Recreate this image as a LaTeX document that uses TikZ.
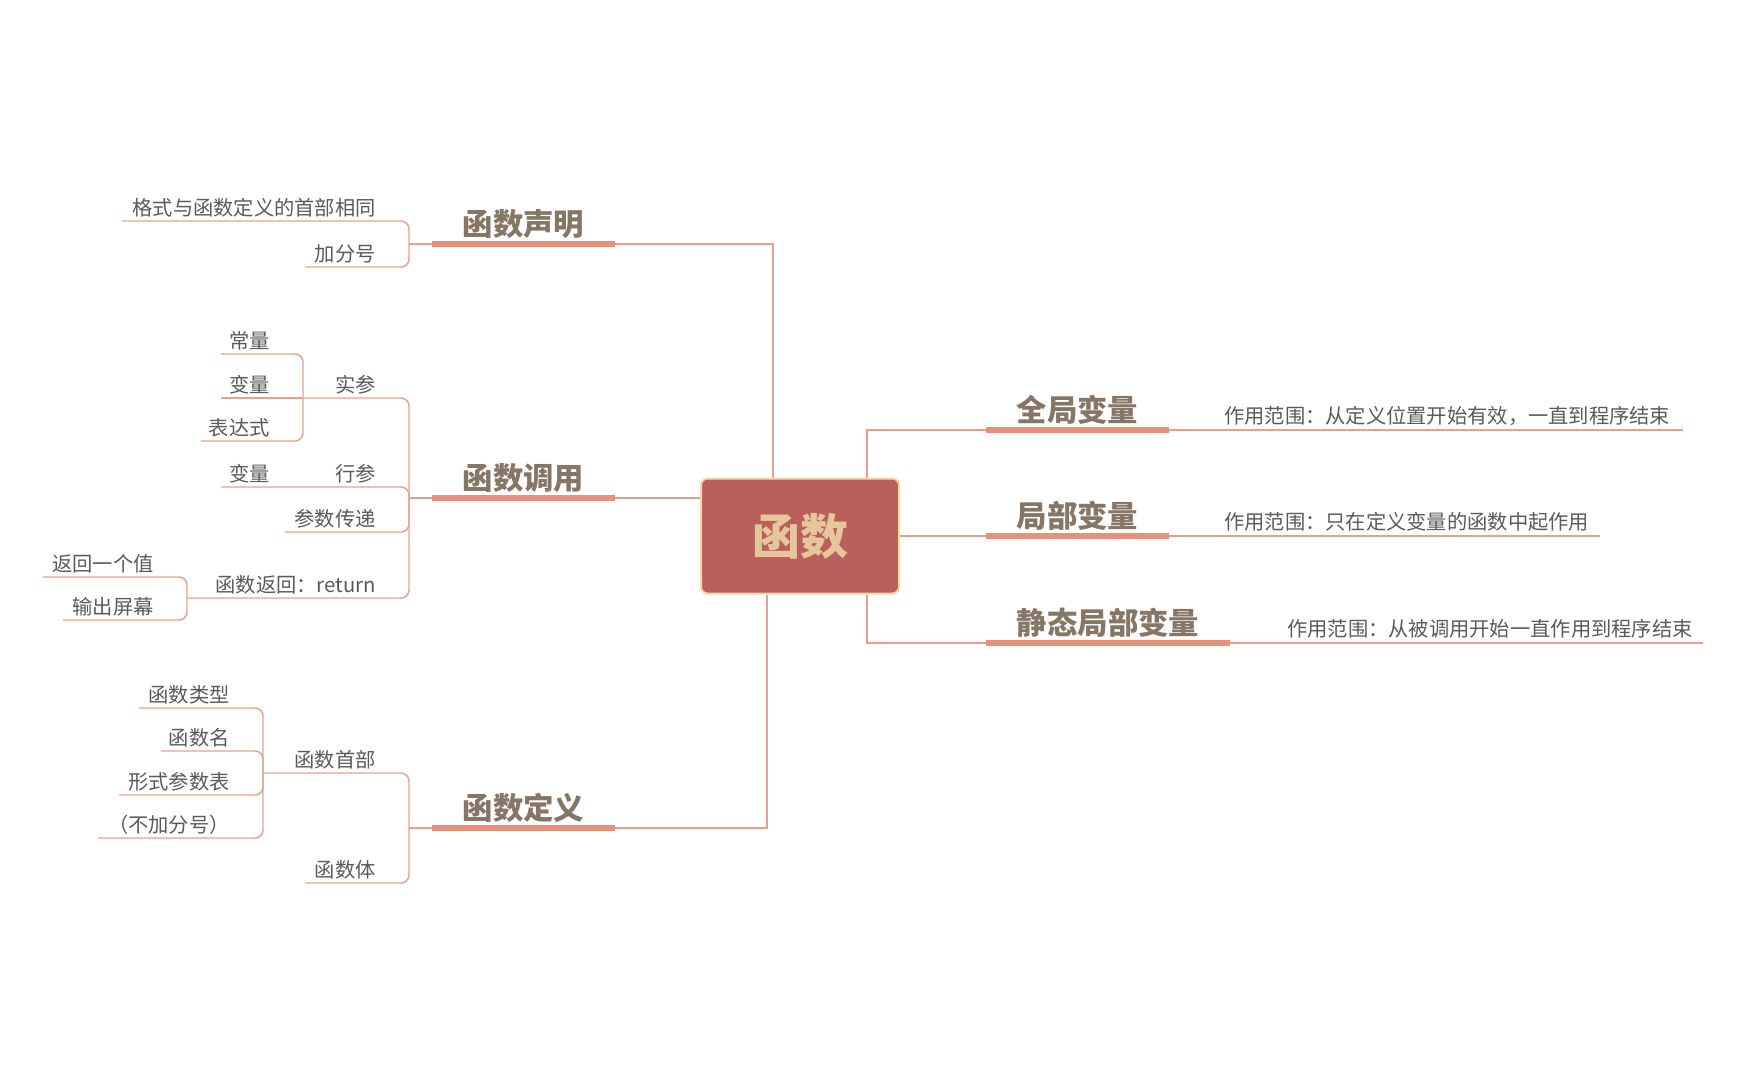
\documentclass[tikz,border=0pt]{standalone}
\usepackage{fontspec}
\setmainfont{Noto Sans CJK SC}
\definecolor{lnc}{HTML}{E8A08E}
\definecolor{barc}{HTML}{E8907A}
\definecolor{headc}{HTML}{857666}
\definecolor{leafc}{HTML}{5A5A5A}
\definecolor{rootc}{HTML}{B95F5C}
\definecolor{rootb}{HTML}{F6D7A4}
\definecolor{roottxt}{HTML}{E6C79C}
\begin{document}
\begin{tikzpicture}[x=0.75pt,y=-0.75pt,
  ln/.style={draw=lnc, line width=1.1pt},
  lnr/.style={ln, rounded corners=6pt},
  barln/.style={draw=barc, line width=4.5pt},
  leaf/.style={inner sep=0pt, anchor=base east, text=leafc, font=\fontsize{15.2}{18}\selectfont},
  rleaf/.style={leaf, anchor=base west},
  head/.style={inner sep=0pt, anchor=base, text=headc, font=\fontsize{22.8}{26}\selectfont\bfseries},
  rootbox/.style={draw=rootb, line width=1.5pt, fill=rootc, rounded corners=5pt,
    minimum width=148.5pt, minimum height=86.25pt, inner sep=0pt,
    text=roottxt, font=\fontsize{36}{40}\selectfont\bfseries, text height=31.7pt, text depth=4.3pt}
  ]
\fill[white] (0,0) rectangle (1745,1079);
\useasboundingbox (0,0) rectangle (1745,1079);

% ---------- root ----------
\node[rootbox] (root) at (800,536) {函数};

% ---------- headings: left ----------
\coordinate (b1L) at (432,244); \coordinate (b1R) at (615,244);
\coordinate (b2L) at (432,498); \coordinate (b2R) at (615,498);
\coordinate (b3L) at (432,828); \coordinate (b3R) at (615,828);
\draw[barln] (b1L) -- (b1R);
\draw[barln] (b2L) -- (b2R);
\draw[barln] (b3L) -- (b3R);
\node[head] (h1) at (523.5,235) {函数声明};
\node[head] (h2) at (523.5,489) {函数调用};
\node[head] (h3) at (523.5,819) {函数定义};

% ---------- headings: right ----------
\coordinate (b4L) at (986,430); \coordinate (b4R) at (1169,430);
\coordinate (b5L) at (986,536); \coordinate (b5R) at (1169,536);
\coordinate (b6L) at (986,643); \coordinate (b6R) at (1230,643);
\draw[barln] (b4L) -- (b4R);
\draw[barln] (b5L) -- (b5R);
\draw[barln] (b6L) -- (b6R);
\node[head] (h4) at (1077.5,421) {全局变量};
\node[head] (h5) at (1077.5,527) {局部变量};
\node[head] (h6) at (1108,634) {静态局部变量};

% ---------- root connectors ----------
\coordinate (k1) at (773,244);
\coordinate (k3) at (767,828);
\coordinate (k4) at (867,430);
\coordinate (k6) at (867,643);
\draw[ln] (root.north -| k1) -- (k1) -- (b1R);
\draw[ln] (root.west |- b2R) -- (b2R);
\draw[ln] (root.south -| k3) -- (k3) -- (b3R);
\draw[ln] (root.north -| k4) -- (k4) -- (b4L);
\draw[ln] (root.east) -- (b5L);
\draw[ln] (root.south -| k6) -- (k6) -- (b6L);

% ---------- right descriptions ----------
\coordinate (e4) at (1683,430);
\coordinate (e5) at (1600,536);
\coordinate (e6) at (1703,643);
\draw[ln] (b4R) -- (e4);
\draw[ln] (b5R) -- (e5);
\draw[ln] (b6R) -- (e6);
\node[rleaf] (r4) at (1224,423) {作用范围：从定义位置开始有效，一直到程序结束};
\node[rleaf] (r5) at (1224,529) {作用范围：只在定义变量的函数中起作用};
\node[rleaf] (r6) at (1287,636) {作用范围：从被调用开始一直作用到程序结束};

% ---------- group A: 函数声明 ----------
\coordinate (J1) at (409,244);
\draw[ln] (J1) -- (b1L);
\coordinate (uA1) at (122,221);
\coordinate (uA2) at (305,267);
\node[leaf] (tA1) at (376,215) {格式与函数定义的首部相同};
\node[leaf] (tA2) at (376,261) {加分号};
\draw[lnr] (uA1) -| (J1);
\draw[lnr] (uA2) -| (J1);

% ---------- group B: 函数调用 ----------
\coordinate (J2) at (409,498);
\draw[ln] (J2) -- (b2L);
% 实参
\coordinate (J21) at (303,398);
\node[leaf] (tB1) at (376,392) {实参};
\draw[lnr] (J21) -| (J2);
\coordinate (uB11) at (221,354);
\coordinate (uB12) at (221,398);
\coordinate (uB13) at (201,441);
\node[leaf] (tB11) at (270,348) {常量};
\node[leaf] (tB12) at (270,392) {变量};
\node[leaf] (tB13) at (270,435) {表达式};
\draw[lnr] (uB11) -| (J21);
\draw[lnr] (uB12) -- (J21);
\draw[lnr] (uB13) -| (J21);
% 行参
\coordinate (uB2) at (221,487);
\node[leaf] (tB2) at (376,481) {行参};
\node[leaf] (tB21) at (270,481) {变量};
\draw[lnr] (uB2) -| (J2);
% 参数传递
\coordinate (uB3) at (285,532);
\node[leaf] (tB3) at (376,526) {参数传递};
\draw[lnr] (uB3) -| (J2);
% 函数返回
\coordinate (J23) at (187,598);
\node[leaf] (tB4) at (376,592) {函数返回：return};
\draw[lnr] (J23) -| (J2);
\coordinate (uB41) at (43,577);
\coordinate (uB42) at (63,620);
\node[leaf] (tB41) at (154,571) {返回一个值};
\node[leaf] (tB42) at (154,614) {输出屏幕};
\draw[lnr] (uB41) -| (J23);
\draw[lnr] (uB42) -| (J23);

% ---------- group C: 函数定义 ----------
\coordinate (J3) at (409,828);
\draw[ln] (J3) -- (b3L);
\coordinate (J31) at (263,773);
\node[leaf] (tC1) at (376,767) {函数首部};
\draw[lnr] (J31) -| (J3);
\coordinate (uC11) at (139,708);
\coordinate (uC12) at (161,751);
\coordinate (uC13) at (119,795);
\coordinate (uC14) at (98,838);
\node[leaf] (tC11) at (230,702) {函数类型};
\node[leaf] (tC12) at (230,745) {函数名};
\node[leaf] (tC13) at (230,789) {形式参数表};
\node[leaf] (tC14) at (230,832) {（不加分号）};
\draw[lnr] (uC11) -| (J31);
\draw[lnr] (uC12) -| (J31);
\draw[lnr] (uC13) -| (J31);
\draw[lnr] (uC14) -| (J31);
\coordinate (uC2) at (305,883);
\node[leaf] (tC2) at (376,877) {函数体};
\draw[lnr] (uC2) -| (J3);
\end{tikzpicture}
\end{document}
